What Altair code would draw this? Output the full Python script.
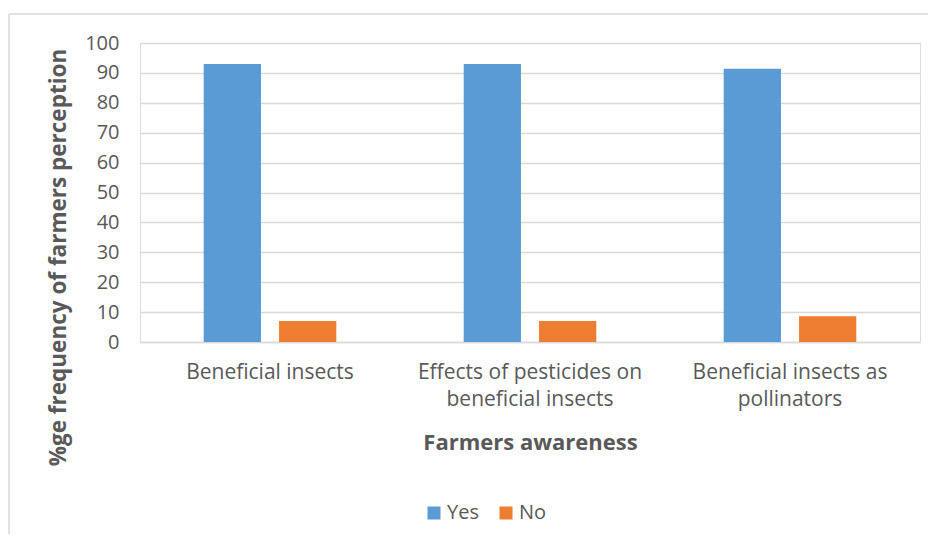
import altair as alt
import pandas as pd

categories = [
    "Beneficial insects",
    "Effects of pesticides on beneficial insects",
    "Beneficial insects as pollinators",
]
series = ["Yes", "No"]
yes_values = [93, 93, 91.4]
no_values = [7, 7, 8.6]
y_ticks = list(range(0, 101, 10))

rows = []
for c, y, n in zip(categories, yes_values, no_values):
    rows.append({"Category": c, "Response": "Yes", "Value": y})
    rows.append({"Category": c, "Response": "No", "Value": n})
df = pd.DataFrame(rows)

FONT = "Open Sans"
GREY = "#595959"

label_expr = (
    "datum.label == 'Effects of pesticides on beneficial insects' ? "
    "['Effects of pesticides on', 'beneficial insects'] : "
    "datum.label == 'Beneficial insects as pollinators' ? "
    "['Beneficial insects as', 'pollinators'] : datum.label"
)

bars = alt.Chart(df).mark_bar().encode(
    x=alt.X(
        "Category:N",
        sort=categories,
        scale=alt.Scale(paddingInner=0.49, paddingOuter=0.245),
        axis=alt.Axis(
            title="Farmers awareness",
            labelExpr=label_expr,
            labelAngle=0,
            labelFont=FONT,
            labelFontSize=21,
            labelColor=GREY,
            labelPadding=19,
            labelLineHeight=27,
            labelLimit=400,
            ticks=False,
            domainColor="#d9d9d9",
            domainWidth=1.5,
            titleFont=FONT,
            titleFontSize=22,
            titleFontWeight="bold",
            titleColor=GREY,
            titleBaseline="alphabetic",
            titleY=107,
        ),
    ),
    xOffset=alt.XOffset(
        "Response:N",
        sort=series,
        scale=alt.Scale(paddingInner=0.24, paddingOuter=0),
    ),
    y=alt.Y(
        "Value:Q",
        scale=alt.Scale(domain=[0, 100]),
        axis=alt.Axis(
            title="%ge frequency of farmers perception",
            values=y_ticks,
            labelFont=FONT,
            labelFontSize=20,
            labelColor=GREY,
            labelPadding=21,
            ticks=False,
            domain=False,
            gridColor="#d9d9d9",
            gridWidth=1.5,
            titleFont=FONT,
            titleFontSize=22.5,
            titleFontWeight="bold",
            titleColor=GREY,
            titleAngle=270,
            titleBaseline="middle",
            titleAlign="center",
            titleX=-82,
            titleY=214,
        ),
    ),
    color=alt.Color(
        "Response:N",
        sort=series,
        scale=alt.Scale(domain=series, range=["#5B9BD5", "#ED7D31"]),
        legend=alt.Legend(
            title=None,
            orient="none",
            legendX=284,
            legendY=460,
            direction="horizontal",
            symbolType="square",
            symbolSize=169,
            symbolStrokeWidth=0,
            labelFont=FONT,
            labelFontSize=20,
            labelColor=GREY,
            labelOffset=3,
            columnPadding=17,
        ),
    ),
)

border_left = alt.Chart(pd.DataFrame({"a": [0]})).mark_rule(
    color="#d9d9d9", strokeWidth=1.5
).encode(x=alt.value(-131), y=alt.value(-29), y2=alt.value(520))
border_top = alt.Chart(pd.DataFrame({"a": [0]})).mark_rule(
    color="#d9d9d9", strokeWidth=1.5
).encode(x=alt.value(-131), x2=alt.value(790), y=alt.value(-29))

chart = (
    alt.layer(bars, border_left, border_top)
    .properties(
        width=780,
        height=299,
        autosize=alt.AutoSizeParams(type="none"),
        padding={"left": 132, "top": 35, "right": 8, "bottom": 192},
    )
    .configure_view(stroke=None)
    .configure(background="white")
)

chart.save("out.html", embed_options={"renderer": "svg", "actions": False})
